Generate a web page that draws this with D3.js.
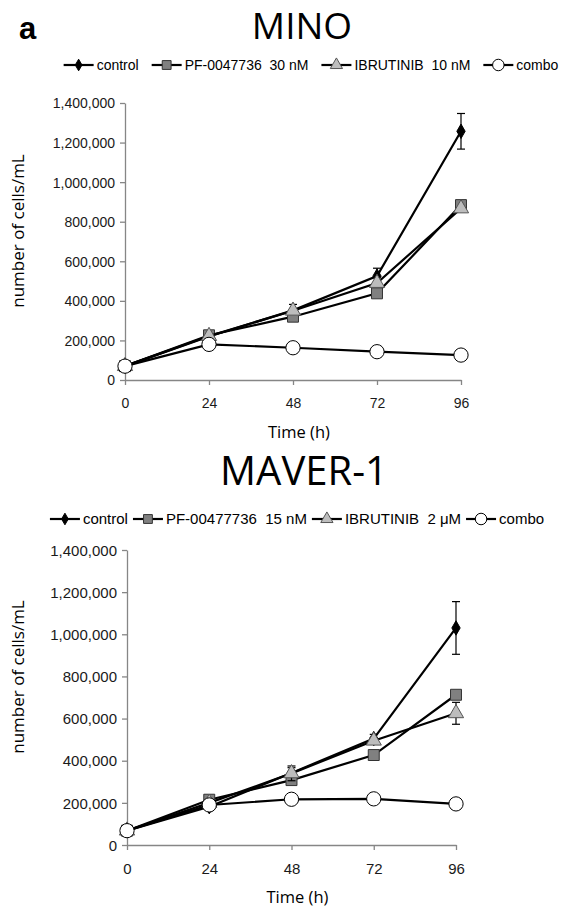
<!DOCTYPE html>
<html>
<head>
<meta charset="utf-8">
<script src="https://cdn.jsdelivr.net/npm/d3@7"></script>
<style>
  html, body { margin: 0; padding: 0; background: #fff; }
  svg { display: block; }
  text { white-space: pre; }
</style>
</head>
<body>
<div id="chart"></div>
<script>
// time points (h)
const hours = [0, 24, 48, 72, 96];
const yTicks = [0, 200000, 400000, 600000, 800000, 1000000, 1200000, 1400000];

// MINO panel values (cells/mL)
const minoControl = [70000, 220000, 352000, 525000, 1257000];
const minoControlErr = [5000, 8000, 30000, 40000, 90000];
const minoPF = [70000, 226000, 320000, 438000, 884000];
const minoIbr = [70000, 222000, 350000, 490000, 867000];
const minoCombo = [70000, 180000, 163000, 143000, 126000];
const minoLabels = ['control', 'PF-0047736  30 nM', 'IBRUTINIB  10 nM', 'combo'];

// MAVER-1 panel values (cells/mL)
const maverControl = [68000, 182000, 342000, 505000, 1030000];
const maverControlErr = [5000, 8000, 25000, 20000, 125000];
const maverPF = [68000, 215000, 308000, 427000, 713000];
const maverIbr = [68000, 200000, 340000, 495000, 625000];
const maverIbrErr = [5000, 8000, 35000, 15000, 52000];
const maverCombo = [68000, 190000, 217000, 219000, 195000];
const maverLabels = ['control', 'PF-00477736  15 nM', 'IBRUTINIB  2 μM', 'combo'];

const W = 565, H = 913;
const svg = d3.select('#chart').append('svg').attr('width', W).attr('height', H);

const numFont = '"Liberation Sans", Arial, sans-serif';
const titleFont = '"Open Sans", "Noto Sans", sans-serif';

// marker styles per series
const markerStyles = [
    { shape: d3.symbolDiamond, size: 60, fill: '#000', stroke: '#000' },
    { shape: d3.symbolSquare, size: 120, fill: '#808080', stroke: '#333' },
    { shape: d3.symbolTriangle, size: 100, fill: '#bdbdbd', stroke: '#555' },
    { shape: d3.symbolCircle, size: 160, fill: '#fff', stroke: '#000' }
];

svg.append('text')
    .attr('x', 19).attr('y', 39)
    .style('font-family', numFont).style('font-weight', 'bold').style('font-size', '31px')
    .text('a');

function drawPanel(p) {
    const g = svg.append('g');

    const x = d3.scaleLinear().domain([0, 96]).range([p.left, p.right]);
    const y = d3.scaleLinear().domain([0, 1400000]).range([p.bottom, p.top]);

    // title
    g.append('text')
        .attr('x', p.titleX).attr('y', p.titleY)
        .attr('text-anchor', 'middle')
        .style('font-family', titleFont).style('font-size', p.titleSize + 'px')
        .text(p.title);

    // axes
    const yAxis = d3.axisLeft(y).tickValues(yTicks).tickSize(5).tickSizeOuter(0)
        .tickFormat(d3.format(','));
    const xAxis = d3.axisBottom(x).tickValues(hours).tickSize(5).tickSizeOuter(0);

    const ya = g.append('g').attr('transform', `translate(${p.left},0)`).call(yAxis);
    const xa = g.append('g').attr('transform', `translate(0,${p.bottom})`).call(xAxis);
    [ya, xa].forEach(a => {
        a.select('.domain').attr('stroke', '#868686').attr('stroke-width', 1.3);
        a.selectAll('.tick line').attr('stroke', '#868686').attr('stroke-width', 1.3);
        a.selectAll('.tick text')
            .style('font-family', numFont).style('font-size', p.fs + 'px').attr('fill', '#1a1a1a');
    });
    ya.selectAll('.tick text').attr('x', -10).attr('dy', '0.35em');
    xa.selectAll('.tick text').attr('y', 18);

    // axis titles
    g.append('text')
        .attr('transform', `translate(${p.yLabelX},${p.yLabelY}) rotate(-90)`)
        .attr('text-anchor', 'middle')
        .style('font-family', titleFont).style('font-size', '17px')
        .text('number of cells/mL');
    g.append('text')
        .attr('x', (p.left + p.right) / 2 + 6).attr('y', p.xLabelY)
        .attr('text-anchor', 'middle')
        .style('font-family', titleFont).style('font-size', '16.5px')
        .text('Time (h)');

    const line = d3.line().x((d, i) => x(hours[i])).y(d => y(d));

    p.series.forEach((s, si) => {
        const st = markerStyles[si];
        g.append('path')
            .datum(s.values)
            .attr('d', line)
            .attr('fill', 'none')
            .attr('stroke', '#000')
            .attr('stroke-width', 2.2);

        if (s.err) {
            const eb = g.append('g');
            s.values.forEach((v, i) => {
                const cx = x(hours[i]);
                const y1 = y(v + s.err[i]), y2 = y(v - s.err[i]);
                eb.append('line').attr('x1', cx).attr('x2', cx).attr('y1', y1).attr('y2', y2)
                    .attr('stroke', '#000').attr('stroke-width', 1.2);
                [y1, y2].forEach(yy => eb.append('line')
                    .attr('x1', cx - 4).attr('x2', cx + 4).attr('y1', yy).attr('y2', yy)
                    .attr('stroke', '#000').attr('stroke-width', 1.2));
            });
        }

        g.selectAll(null)
            .data(s.values)
            .enter()
            .append('path')
            .attr('d', d3.symbol().type(st.shape).size(st.size))
            .attr('transform', (d, i) => `translate(${x(hours[i])},${y(d)})`)
            .attr('fill', st.fill)
            .attr('stroke', st.stroke)
            .attr('stroke-width', 1);
    });

    // legend
    const lg = g.append('g');
    let cx = 0;
    const items = [];
    p.labels.forEach((lab, i) => {
        const it = lg.append('g');
        it.append('line').attr('x1', 0).attr('x2', 30).attr('y1', 0).attr('y2', 0)
            .attr('stroke', '#000').attr('stroke-width', 2.2);
        const st = markerStyles[i];
        it.append('path')
            .attr('d', d3.symbol().type(st.shape).size(st.size * 0.65))
            .attr('transform', 'translate(15,0)')
            .attr('fill', st.fill).attr('stroke', st.stroke).attr('stroke-width', 1);
        const t = it.append('text')
            .attr('x', 33).attr('dy', '0.35em')
            .style('font-family', numFont).style('font-size', p.fs + 'px')
            .text(lab);
        const w = 33 + t.node().getComputedTextLength();
        items.push({ it, x: cx });
        cx += w + p.legendGap;
    });
    const total = cx - p.legendGap;
    const start = p.legendCenter - total / 2;
    items.forEach(d => d.it.attr('transform', `translate(${start + d.x},${p.legendY})`));
}

drawPanel({
    title: 'MINO', titleX: 302, titleY: 39, titleSize: 37,
    left: 125, right: 461, top: 103, bottom: 380,
    fs: 14, yLabelX: 24, yLabelY: 231, xLabelY: 438,
    legendY: 65, legendCenter: 311, legendGap: 13,
    labels: minoLabels,
    series: [
        { values: minoControl, err: minoControlErr },
        { values: minoPF },
        { values: minoIbr },
        { values: minoCombo }
    ]
});

drawPanel({
    title: 'MAVER-1', titleX: 304, titleY: 485, titleSize: 40,
    left: 127, right: 456, top: 550, bottom: 845,
    fs: 15, yLabelX: 24, yLabelY: 677, xLabelY: 903,
    legendY: 519, legendCenter: 297, legendGap: 5,
    labels: maverLabels,
    series: [
        { values: maverControl, err: maverControlErr },
        { values: maverPF },
        { values: maverIbr, err: maverIbrErr },
        { values: maverCombo }
    ]
});
</script>
</body>
</html>
